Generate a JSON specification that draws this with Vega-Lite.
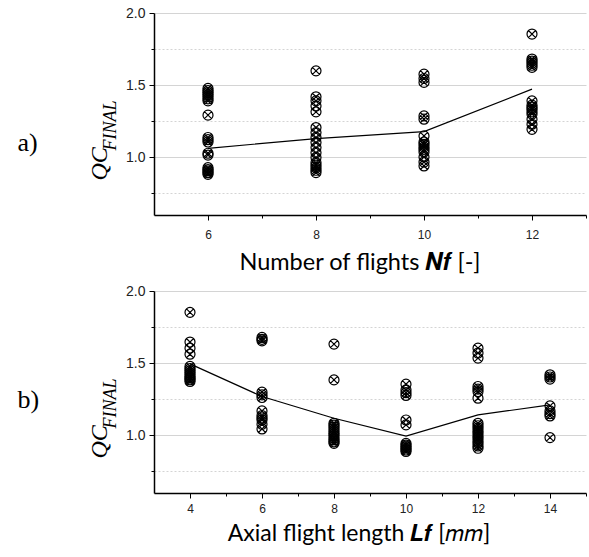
{
  "$schema": "https://vega.github.io/schema/vega-lite/v6.json",
  "background": "white",
  "padding": {"left": 17, "top": 6, "right": 0, "bottom": 0},
  "config": {
    "view": {"stroke": null},
    "axis": {
      "domainColor": "black", "domainWidth": 1.5, "tickColor": "black", "tickWidth": 1,
      "labelFont": "Liberation Sans", "labelColor": "#222", "gridColor": "#d4d4d4", "gridWidth": 1
    }
  },
  "datasets": {
    "a_pts": [
      {"nf": 6, "qc": 1.477}, {"nf": 6, "qc": 1.462}, {"nf": 6, "qc": 1.449}, {"nf": 6, "qc": 1.435}, {"nf": 6, "qc": 1.421}, {"nf": 6, "qc": 1.405}, {"nf": 6, "qc": 1.391},
      {"nf": 6, "qc": 1.292}, {"nf": 6, "qc": 1.137}, {"nf": 6, "qc": 1.122}, {"nf": 6, "qc": 1.106},
      {"nf": 6, "qc": 1.028}, {"nf": 6, "qc": 1.015}, {"nf": 6, "qc": 0.928}, {"nf": 6, "qc": 0.915}, {"nf": 6, "qc": 0.905}, {"nf": 6, "qc": 0.893}, {"nf": 6, "qc": 0.882},
      {"nf": 8, "qc": 1.599}, {"nf": 8, "qc": 1.419}, {"nf": 8, "qc": 1.391}, {"nf": 8, "qc": 1.356}, {"nf": 8, "qc": 1.315},
      {"nf": 8, "qc": 1.206}, {"nf": 8, "qc": 1.171}, {"nf": 8, "qc": 1.137}, {"nf": 8, "qc": 1.102}, {"nf": 8, "qc": 1.067},
      {"nf": 8, "qc": 1.032}, {"nf": 8, "qc": 0.998}, {"nf": 8, "qc": 0.963}, {"nf": 8, "qc": 0.945}, {"nf": 8, "qc": 0.928}, {"nf": 8, "qc": 0.910}, {"nf": 8, "qc": 0.894},
      {"nf": 10, "qc": 1.576}, {"nf": 10, "qc": 1.546}, {"nf": 10, "qc": 1.519}, {"nf": 10, "qc": 1.287}, {"nf": 10, "qc": 1.264},
      {"nf": 10, "qc": 1.148}, {"nf": 10, "qc": 1.106}, {"nf": 10, "qc": 1.090}, {"nf": 10, "qc": 1.072}, {"nf": 10, "qc": 1.055}, {"nf": 10, "qc": 1.037},
      {"nf": 10, "qc": 1.002}, {"nf": 10, "qc": 0.967}, {"nf": 10, "qc": 0.940},
      {"nf": 12, "qc": 1.854}, {"nf": 12, "qc": 1.681}, {"nf": 12, "qc": 1.667}, {"nf": 12, "qc": 1.653}, {"nf": 12, "qc": 1.638}, {"nf": 12, "qc": 1.623},
      {"nf": 12, "qc": 1.391}, {"nf": 12, "qc": 1.361}, {"nf": 12, "qc": 1.345}, {"nf": 12, "qc": 1.333}, {"nf": 12, "qc": 1.315}, {"nf": 12, "qc": 1.299},
      {"nf": 12, "qc": 1.264}, {"nf": 12, "qc": 1.229}, {"nf": 12, "qc": 1.194}
    ],
    "a_mean": [
      {"nf": 6, "qc": 1.062}, {"nf": 8, "qc": 1.130}, {"nf": 10, "qc": 1.178}, {"nf": 12, "qc": 1.472}
    ],
    "b_pts": [
      {"lf": 4, "qc": 1.852}, {"lf": 4, "qc": 1.646}, {"lf": 4, "qc": 1.604}, {"lf": 4, "qc": 1.562},
      {"lf": 4, "qc": 1.477}, {"lf": 4, "qc": 1.462}, {"lf": 4, "qc": 1.447}, {"lf": 4, "qc": 1.433}, {"lf": 4, "qc": 1.419}, {"lf": 4, "qc": 1.405}, {"lf": 4, "qc": 1.396}, {"lf": 4, "qc": 1.385}, {"lf": 4, "qc": 1.373},
      {"lf": 6, "qc": 1.678}, {"lf": 6, "qc": 1.665}, {"lf": 6, "qc": 1.655},
      {"lf": 6, "qc": 1.299}, {"lf": 6, "qc": 1.280}, {"lf": 6, "qc": 1.262},
      {"lf": 6, "qc": 1.169}, {"lf": 6, "qc": 1.137}, {"lf": 6, "qc": 1.120}, {"lf": 6, "qc": 1.106}, {"lf": 6, "qc": 1.076}, {"lf": 6, "qc": 1.044},
      {"lf": 8, "qc": 1.632}, {"lf": 8, "qc": 1.384},
      {"lf": 8, "qc": 1.083}, {"lf": 8, "qc": 1.070}, {"lf": 8, "qc": 1.056}, {"lf": 8, "qc": 1.040}, {"lf": 8, "qc": 1.025}, {"lf": 8, "qc": 1.010}, {"lf": 8, "qc": 0.998}, {"lf": 8, "qc": 0.982}, {"lf": 8, "qc": 0.968}, {"lf": 8, "qc": 0.955}, {"lf": 8, "qc": 0.944},
      {"lf": 10, "qc": 1.354}, {"lf": 10, "qc": 1.315}, {"lf": 10, "qc": 1.295}, {"lf": 10, "qc": 1.276},
      {"lf": 10, "qc": 1.106}, {"lf": 10, "qc": 1.072},
      {"lf": 10, "qc": 0.944}, {"lf": 10, "qc": 0.932}, {"lf": 10, "qc": 0.921}, {"lf": 10, "qc": 0.910}, {"lf": 10, "qc": 0.898}, {"lf": 10, "qc": 0.888},
      {"lf": 12, "qc": 1.604}, {"lf": 12, "qc": 1.570}, {"lf": 12, "qc": 1.535},
      {"lf": 12, "qc": 1.338}, {"lf": 12, "qc": 1.320}, {"lf": 12, "qc": 1.303}, {"lf": 12, "qc": 1.257},
      {"lf": 12, "qc": 1.083}, {"lf": 12, "qc": 1.066}, {"lf": 12, "qc": 1.049}, {"lf": 12, "qc": 1.030}, {"lf": 12, "qc": 1.014}, {"lf": 12, "qc": 0.995}, {"lf": 12, "qc": 0.979},
      {"lf": 12, "qc": 0.960}, {"lf": 12, "qc": 0.944}, {"lf": 12, "qc": 0.926}, {"lf": 12, "qc": 0.910},
      {"lf": 14, "qc": 1.419}, {"lf": 14, "qc": 1.404}, {"lf": 14, "qc": 1.389},
      {"lf": 14, "qc": 1.204}, {"lf": 14, "qc": 1.169}, {"lf": 14, "qc": 1.150}, {"lf": 14, "qc": 1.134}, {"lf": 14, "qc": 0.984}
    ],
    "b_mean": [
      {"lf": 4, "qc": 1.495}, {"lf": 6, "qc": 1.269}, {"lf": 8, "qc": 1.118}, {"lf": 10, "qc": 0.995}, {"lf": 12, "qc": 1.141}, {"lf": 14, "qc": 1.211}
    ]
  },
  "bounds": "flush",
  "spacing": 76,
  "vconcat": [
    {
      "width": 432,
      "height": 202,
      "resolve": {"axis": {"x": "independent", "y": "independent"}},
      "layer": [
        {
          "data": {"name": "a_pts"},
          "mark": {"type": "point", "shape": "M-1,0A1,1 0 1,0 1,0A1,1 0 1,0 -1,0M-0.707,-0.707L0.707,0.707M-0.707,0.707L0.707,-0.707", "filled": false, "stroke": "black", "strokeWidth": 1.2, "opacity": 1, "size": 100},
          "encoding": {
            "x": {"field": "nf", "type": "quantitative", "scale": {"domain": [5, 13], "nice": false, "zero": false},
              "axis": {"orient": "bottom", "values": [6, 8, 10, 12], "grid": false, "tickSize": 5, "labelPadding": 9, "labelFontSize": 12,
                "title": "Number of flights 𝑵𝒇 [-]", "titleFont": "Lato", "titleFontSize": 23.5, "titleFontWeight": "normal", "titleColor": "black",
                "titleX": 205.5, "titleY": 54, "titleAlign": "center", "titleBaseline": "alphabetic"}},
            "y": {"field": "qc", "type": "quantitative", "scale": {"domain": [0.6, 2.0], "nice": false, "zero": false},
              "axis": {"orient": "left", "values": [1.0, 1.5, 2.0], "format": ".1f", "grid": true, "tickSize": 5, "labelPadding": 4, "labelFontSize": 14,
                "title": "QC", "titleFont": "Liberation Serif", "titleFontStyle": "italic", "titleFontWeight": "normal", "titleFontSize": 24, "titleColor": "black",
                "titleAngle": -90, "titleX": -48, "titleY": 167, "titleAlign": "left", "titleBaseline": "alphabetic"}}
          }
        },
        {
          "data": {"name": "a_mean"},
          "mark": {"type": "line", "color": "black", "strokeWidth": 1.2},
          "encoding": {
            "x": {"field": "nf", "type": "quantitative",
              "axis": {"orient": "bottom", "values": [7, 9, 11, 13], "labels": false, "domain": false, "grid": false, "tickSize": 3,
                "title": "a)", "titleFont": "Liberation Serif", "titleFontSize": 26, "titleFontWeight": "normal", "titleColor": "black",
                "titleAngle": 0, "titleX": -137, "titleY": -65, "titleAlign": "left", "titleBaseline": "alphabetic"}},
            "y": {"field": "qc", "type": "quantitative",
              "axis": {"orient": "left", "values": [0.75, 1.25, 1.75], "labels": false, "domain": false, "grid": true, "gridDash": [2, 2], "tickSize": 3,
                "title": "FINAL", "titleFont": "Liberation Serif", "titleFontStyle": "italic", "titleFontWeight": "normal", "titleFontSize": 18, "titleColor": "black",
                "titleAngle": -90, "titleX": -39, "titleY": 137, "titleAlign": "left", "titleBaseline": "alphabetic"}}
          }
        }
      ]
    },
    {
      "width": 432,
      "height": 202,
      "resolve": {"axis": {"x": "independent", "y": "independent"}},
      "layer": [
        {
          "data": {"name": "b_pts"},
          "mark": {"type": "point", "shape": "M-1,0A1,1 0 1,0 1,0A1,1 0 1,0 -1,0M-0.707,-0.707L0.707,0.707M-0.707,0.707L0.707,-0.707", "filled": false, "stroke": "black", "strokeWidth": 1.2, "opacity": 1, "size": 100},
          "encoding": {
            "x": {"field": "lf", "type": "quantitative", "scale": {"domain": [3, 15], "nice": false, "zero": false},
              "axis": {"orient": "bottom", "values": [4, 6, 8, 10, 12, 14], "grid": false, "tickSize": 5, "labelPadding": 5, "labelFontSize": 12,
                "title": "Axial flight length 𝑳𝒇 [𝑚𝑚]", "titleFont": "Lato", "titleFontSize": 23, "titleFontWeight": "normal", "titleColor": "black",
                "titleX": 204.5, "titleY": 47, "titleAlign": "center", "titleBaseline": "alphabetic"}},
            "y": {"field": "qc", "type": "quantitative", "scale": {"domain": [0.6, 2.0], "nice": false, "zero": false},
              "axis": {"orient": "left", "values": [1.0, 1.5, 2.0], "format": ".1f", "grid": true, "tickSize": 5, "labelPadding": 4, "labelFontSize": 14,
                "title": "QC", "titleFont": "Liberation Serif", "titleFontStyle": "italic", "titleFontWeight": "normal", "titleFontSize": 24, "titleColor": "black",
                "titleAngle": -90, "titleX": -48, "titleY": 167, "titleAlign": "left", "titleBaseline": "alphabetic"}}
          }
        },
        {
          "data": {"name": "b_mean"},
          "mark": {"type": "line", "color": "black", "strokeWidth": 1.2},
          "encoding": {
            "x": {"field": "lf", "type": "quantitative",
              "axis": {"orient": "bottom", "values": [5, 7, 9, 11, 13, 15], "labels": false, "domain": false, "grid": false, "tickSize": 3,
                "title": "b)", "titleFont": "Liberation Serif", "titleFontSize": 26, "titleFontWeight": "normal", "titleColor": "black",
                "titleAngle": 0, "titleX": -137, "titleY": -86, "titleAlign": "left", "titleBaseline": "alphabetic"}},
            "y": {"field": "qc", "type": "quantitative",
              "axis": {"orient": "left", "values": [0.75, 1.25, 1.75], "labels": false, "domain": false, "grid": true, "gridDash": [2, 2], "tickSize": 3,
                "title": "FINAL", "titleFont": "Liberation Serif", "titleFontStyle": "italic", "titleFontWeight": "normal", "titleFontSize": 18, "titleColor": "black",
                "titleAngle": -90, "titleX": -39, "titleY": 137, "titleAlign": "left", "titleBaseline": "alphabetic"}}
          }
        }
      ]
    }
  ]
}
